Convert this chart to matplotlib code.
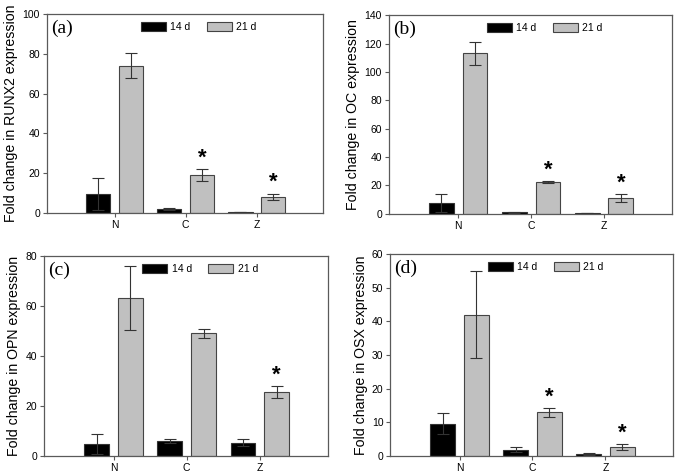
import matplotlib
matplotlib.use("Agg")
import matplotlib.pyplot as plt
import numpy as np

groups = ["N", "C", "Z"]
series = ["14 d", "21 d"]

runx2_14 = [9.5, 2.0, 0.4]
runx2_14_err = [8.0, 0.6, 0.2]
runx2_21 = [74.0, 19.0, 8.0]
runx2_21_err = [6.3, 3.0, 1.6]

oc_14 = [7.8, 1.0, 0.7]
oc_14_err = [6.5, 0.3, 0.2]
oc_21 = [113.0, 22.2, 11.0]
oc_21_err = [8.0, 0.7, 2.7]

opn_14 = [4.9, 5.9, 5.3]
opn_14_err = [4.0, 0.9, 1.5]
opn_21 = [63.3, 49.0, 25.5]
opn_21_err = [12.8, 1.8, 2.4]

osx_14 = [9.6, 1.9, 0.6]
osx_14_err = [3.2, 0.8, 0.2]
osx_21 = [42.0, 13.0, 2.6]
osx_21_err = [13.0, 1.3, 0.9]

panels = [
    ("(a)", "Fold change in RUNX2 expression", runx2_14, runx2_14_err, runx2_21, runx2_21_err,
     [0, 20, 40, 60, 80, 100], [False, True, True]),
    ("(b)", "Fold change in OC expression", oc_14, oc_14_err, oc_21, oc_21_err,
     [0, 20, 40, 60, 80, 100, 120, 140], [False, True, True]),
    ("(c)", "Fold change in OPN expression", opn_14, opn_14_err, opn_21, opn_21_err,
     [0, 20, 40, 60, 80], [False, False, True]),
    ("(d)", "Fold change in OSX expression", osx_14, osx_14_err, osx_21, osx_21_err,
     [0, 10, 20, 30, 40, 50, 60], [False, True, True]),
]

positions = [
    [0.069, 0.550, 0.406, 0.420],
    [0.572, 0.548, 0.416, 0.420],
    [0.065, 0.036, 0.417, 0.423],
    [0.574, 0.036, 0.416, 0.427],
]

frame = "#5a5a5a"
fig = plt.figure(figsize=(6.8, 4.73), dpi=100)

for pos, (lab, ylab, v14, e14, v21, e21, yt, stars) in zip(positions, panels):
    ax = fig.add_axes(pos)
    x = np.arange(1, len(groups) + 1)
    w = 0.34
    ax.bar(x - 0.23, v14, w, color="black", edgecolor="#333333", linewidth=0.8,
           yerr=e14, ecolor="#333333", capsize=4, error_kw=dict(elinewidth=0.8, capthick=0.8),
           label=series[0])
    ax.bar(x + 0.23, v21, w, color="#c0c0c0", edgecolor="#444444", linewidth=0.8,
           yerr=e21, ecolor="#333333", capsize=4, error_kw=dict(elinewidth=0.8, capthick=0.8),
           label=series[1])
    ymax = yt[-1]
    for i, s in enumerate(stars):
        if s:
            ax.text(x[i] + 0.23, v21[i] + e21[i] + ymax * 0.003, "*", ha="center", va="bottom",
                    fontsize=16, fontweight="bold", family="Liberation Sans")
    ax.set_xlim(0.05, 3.93)
    ax.set_ylim(0, ymax)
    ax.set_yticks(yt)
    ax.set_xticks(x)
    ax.set_xticklabels(groups)
    ax.tick_params(direction="out", length=3, width=0.8, color=frame, labelsize=7.5, pad=2)
    for t in ax.get_xticklabels() + ax.get_yticklabels():
        t.set_family("Liberation Sans")
    for sp in ax.spines.values():
        sp.set_color(frame)
        sp.set_linewidth(0.9)
    ax.set_ylabel(ylab, fontsize=10.2, family="Liberation Sans", labelpad=3)
    ax.text(0.015, 0.93, lab, transform=ax.transAxes, fontsize=14, family="Liberation Serif",
            va="center", ha="left")
    ax.legend(loc="center", bbox_to_anchor=(0.55, 0.935), ncol=2, frameon=False,
              prop=dict(family="Liberation Sans", size=7.5), handlelength=2.4, handleheight=1.0,
              columnspacing=1.6, handletextpad=0.4)

fig.savefig("out.png", dpi=100)
